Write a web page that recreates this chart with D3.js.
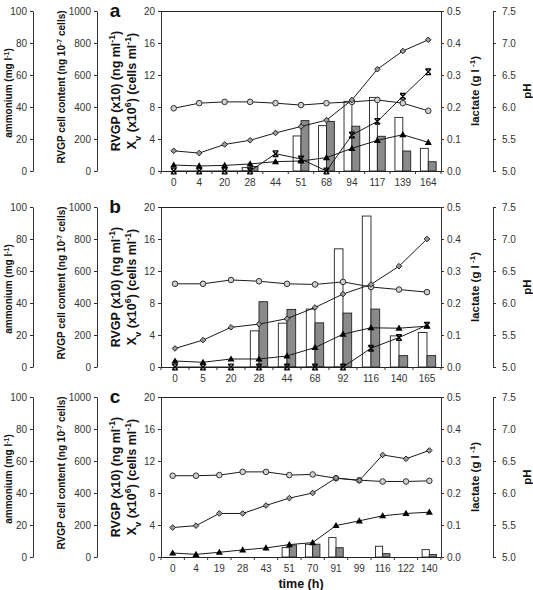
<!DOCTYPE html>
<html><head><meta charset="utf-8">
<script src="https://cdn.jsdelivr.net/npm/d3@7"></script>
<style>body{margin:0;background:#fff}svg{display:block}text{font-family:"Liberation Sans",Arial,sans-serif}</style>
</head><body><div id="chart"></div>
<script>
// ---------- data ----------
const catsA = ["0","4","20","28","44","51","68","94","117","139","164"];
const rvgpA = [null,null,null,0.42,null,4.38,5.67,8.7,9.2,6.7,2.83];
const contentA = [null,null,null,28,null,315,310,280,217,125,58];
const xvA = [0.75,0.63,0.7,0.88,1.17,1.25,1.67,2.83,3.83,4.54,3.58];
const phA = [5.98,6.06,6.08,6.08,6.06,6.03,6.06,6.08,6.11,6.06,5.94];
const lactateA = [0.063,0.056,0.083,0.096,0.119,0.139,0.159,0.222,0.318,0.375,0.41];
const ammoniumA = [0,0,0,0,10.8,7.5,0,22.5,31,46.7,62];

const catsB = ["0","5","20","28","44","68","92","116","140","165"];
const rvgpB = [null,null,null,4.52,5.48,7.24,14.77,18.87,3.89,4.31];
const contentB = [null,null,null,408,360,276,337,362,71,71];
const xvB = [0.75,0.59,1.0,1.0,1.38,2.43,4.1,4.9,4.85,5.1];
const phB = [6.30,6.30,6.36,6.34,6.30,6.29,6.33,6.25,6.21,6.17];
const lactateB = [0.058,0.084,0.124,0.134,0.151,0.186,0.228,0.258,0.315,0.40];
const ammoniumB = [0,0,0,0,0,0,0,11.7,18.4,26.2];

const catsC = ["0","4","19","28","43","51","70","91","99","116","122","140"];
const rvgpC = [null,null,null,null,null,1.17,1.59,2.43,null,1.34,null,0.92];
const contentC = [null,null,null,null,null,75,80,58,null,21,null,15];
const xvC = [0.5,0.33,0.59,0.88,1.13,1.55,1.8,3.93,4.52,5.15,5.44,5.6];
const phC = [6.27,6.27,6.28,6.33,6.33,6.28,6.29,6.23,6.20,6.18,6.18,6.19];
const lactateC = [0.092,0.098,0.136,0.136,0.161,0.184,0.2,0.247,0.239,0.319,0.307,0.333];
const ammoniumC = null;

const leftTicks = [0,4,8,12,16,20];
const ammoniumTicks = [0,20,40,60,80,100];
const contentTicks = [0,200,400,600,800,1000];
const lactateTicks = [0,0.1,0.2,0.3,0.4,0.5];
const phTicks = [5.0,5.5,6.0,6.5,7.0,7.5];

const panels = [
  {letter:"a", top:11, cats:catsA, rvgp:rvgpA, content:contentA, xv:xvA, ph:phA, lactate:lactateA, ammonium:ammoniumA},
  {letter:"b", top:207, cats:catsB, rvgp:rvgpB, content:contentB, xv:xvB, ph:phB, lactate:lactateB, ammonium:ammoniumB},
  {letter:"c", top:397, cats:catsC, rvgp:rvgpC, content:contentC, xv:xvC, ph:phC, lactate:lactateC, ammonium:ammoniumC, xlabel:"time (h)"}
];

// ---------- layout ----------
const W = 533, H = 590;
const X0 = 161, X1 = 441, PH = 160;
const AX_AMM = 33, AX_CONT = 97, AX_PH = 493;
const svg = d3.select("#chart").append("svg").attr("width", W).attr("height", H);
const axisColor = "#333", tickText = "#333";

function styleAxis(g){
  g.selectAll("path.domain").attr("stroke", axisColor).attr("stroke-width",1);
  g.selectAll(".tick line").attr("stroke", axisColor);
  g.selectAll(".tick text").attr("fill", tickText).attr("font-size", 10).attr("font-family", '"Liberation Sans",Arial,sans-serif');
}

function rotLabel(g, x, y, parts, size){
  const t = g.append("text").attr("transform", `translate(${x},${y}) rotate(-90)`)
    .attr("text-anchor","middle").attr("font-weight","bold").attr("font-size", size).attr("fill","#111");
  parts.forEach(p => {
    const ts = t.append("tspan").text(p.t);
    if (p.sup) ts.attr("font-size", size*0.7).attr("baseline-shift", "super");
    if (p.sub) ts.attr("font-size", size*0.75).attr("baseline-shift", "sub");
  });
  return t;
}

const fmtInt = d3.format("d");

panels.forEach(p => {
  const g = svg.append("g");
  const top = p.top, bot = top + PH;
  const x = d3.scaleBand().domain(p.cats).range([X0, X1]).padding(0);
  const yL = d3.scaleLinear().domain([0,20]).range([bot, top]);
  const yAmm = d3.scaleLinear().domain([0,100]).range([bot, top]);
  const yCont = d3.scaleLinear().domain([0,1000]).range([bot, top]);
  const yLac = d3.scaleLinear().domain([0,0.5]).range([bot, top]);
  const yPh = d3.scaleLinear().domain([5,7.5]).range([bot, top]);

  // outer axes
  g.append("g").attr("transform",`translate(${AX_AMM},0)`).call(d3.axisLeft(yAmm).tickValues(ammoniumTicks).tickFormat(fmtInt).tickSizeInner(3).tickSizeOuter(0).tickPadding(3)).call(styleAxis);
  g.append("g").attr("transform",`translate(${AX_CONT},0)`).call(d3.axisLeft(yCont).tickValues(contentTicks).tickFormat(fmtInt).tickSizeInner(3).tickSizeOuter(0).tickPadding(3)).call(styleAxis);
  g.append("g").attr("transform",`translate(${X0},0)`).call(d3.axisLeft(yL).tickValues(leftTicks).tickFormat(fmtInt).tickSizeInner(3).tickSizeOuter(0).tickPadding(3)).call(styleAxis);
  g.append("g").attr("transform",`translate(${X1},0)`).call(d3.axisRight(yLac).tickValues(lactateTicks).tickFormat(d3.format(".1f")).tickSizeInner(3).tickSizeOuter(0).tickPadding(3)).call(styleAxis);
  g.append("g").attr("transform",`translate(${AX_PH},0)`).call(d3.axisRight(yPh).tickValues(phTicks).tickFormat(d3.format(".1f")).tickSizeInner(3).tickSizeOuter(0).tickPadding(6)).call(styleAxis);

  // frame top
  g.append("line").attr("x1",X0).attr("x2",X1).attr("y1",top+0.5).attr("y2",top+0.5).attr("stroke","#222");

  // bars
  const bw = x.bandwidth()*0.31;
  const idx = p.cats.map((c,i)=>i);
  g.selectAll("rect.w").data(idx.filter(i=>p.rvgp[i]!=null)).join("rect")
    .attr("x", i => x(p.cats[i]) + x.bandwidth()/2 - bw).attr("width", bw)
    .attr("y", i => yL(p.rvgp[i])).attr("height", i => bot - yL(p.rvgp[i]))
    .attr("fill","#fff").attr("stroke","#222").attr("stroke-width",0.9);
  g.selectAll("rect.g").data(idx.filter(i=>p.content[i]!=null)).join("rect")
    .attr("x", i => x(p.cats[i]) + x.bandwidth()/2).attr("width", bw)
    .attr("y", i => yCont(p.content[i])).attr("height", i => bot - yCont(p.content[i]))
    .attr("fill","#8a8a8a").attr("stroke","#222").attr("stroke-width",0.9);

  // x axis (categories; ticks between categories)
  const xa = g.append("g").attr("transform",`translate(0,${bot})`);
  xa.append("line").attr("x1",X0).attr("x2",X1).attr("y1",0.5).attr("y2",0.5).attr("stroke","#222");
  const edges = p.cats.map(c => x(c)).concat([X1]);
  xa.selectAll("line.t").data(edges).join("line").attr("x1",d=>d).attr("x2",d=>d).attr("y1",0).attr("y2",3).attr("stroke",axisColor);
  xa.selectAll("text").data(p.cats).join("text").attr("x", c => x(c)+x.bandwidth()/2).attr("y",15)
    .attr("text-anchor","middle").attr("font-size",10).attr("fill",tickText).text(c=>c);

  const cx = i => x(p.cats[i]) + x.bandwidth()/2;
  const line = (sc, arr) => d3.line().x((d,i)=>cx(i)).y(d=>sc(d))(arr);
  const lineG = g.append("g").attr("fill","none").attr("stroke","#1a1a1a").attr("stroke-width",1);

  // series: pH (circles), lactate (diamonds), Xv (triangles), ammonium (crosses)
  lineG.append("path").attr("d", line(yPh, p.ph));
  lineG.append("path").attr("d", line(yLac, p.lactate));
  lineG.append("path").attr("d", line(yL, p.xv));
  if (p.ammonium) lineG.append("path").attr("d", line(yAmm, p.ammonium));

  g.selectAll("circle.ph").data(p.ph).join("circle")
    .attr("cx",(d,i)=>cx(i)).attr("cy",d=>yPh(d)).attr("r",2.8)
    .attr("fill","#d0d0d0").attr("stroke","#333").attr("stroke-width",1);
  const diamond = d3.symbol().type(d3.symbolDiamond2).size(20);
  g.selectAll("path.lac").data(p.lactate).join("path")
    .attr("transform",(d,i)=>`translate(${cx(i)},${yLac(d)})`).attr("d", diamond())
    .attr("fill","#9a9a9a").attr("stroke","#222").attr("stroke-width",1);
  const tri = d3.symbol().type(d3.symbolTriangle).size(22);
  g.selectAll("path.xv").data(p.xv).join("path")
    .attr("transform",(d,i)=>`translate(${cx(i)},${yL(d)+0.5})`).attr("d", tri())
    .attr("fill","#000");
  if (p.ammonium) {
    const s = 2.8;
    g.selectAll("path.amm").data(p.ammonium).join("path")
      .attr("transform",(d,i)=>`translate(${cx(i)},${yAmm(d)})`)
      .attr("d", `M${-s},${-s}L${s},${s}M${s},${-s}L${-s},${s}M${-s},${-s}L${s},${-s}M${-s},${s}L${s},${s}`)
      .attr("fill","none").attr("stroke","#000").attr("stroke-width",1.3);
  }

  // labels
  g.append("text").attr("x",115).attr("y",top+6).attr("font-size",19).attr("font-weight","bold").attr("text-anchor","middle").attr("fill","#111").text(p.letter);
  rotLabel(g, 11.5, top+82, [{t:"ammonium (mg l"},{t:"-1",sup:true},{t:")"}], 10);
  rotLabel(g, 65, top+76, [{t:"RVGP cell content  (ng 10"},{t:"-7",sup:true},{t:" cells)"}], 10);
  rotLabel(g, 120, top+80, [{t:"RVGP (x10) (ng ml"},{t:"-1",sup:true},{t:")"}], 12.5);
  rotLabel(g, 136, top+80, [{t:"X"},{t:"v",sub:true},{t:" (x10"},{t:"6",sup:true},{t:") (cells ml"},{t:"-1",sup:true},{t:")"}], 12.5);
  rotLabel(g, 479, top+80, [{t:"lactate (g l"},{t:" -1",sup:true},{t:")"}], 11.5);
  rotLabel(g, 531, top+80, [{t:"pH"}], 11.5);

  if (p.xlabel) g.append("text").attr("x",(X0+X1)/2).attr("y",bot+31).attr("text-anchor","middle").attr("font-size",12.5).attr("font-weight","bold").attr("fill","#111").text(p.xlabel);
});
</script></body></html>
